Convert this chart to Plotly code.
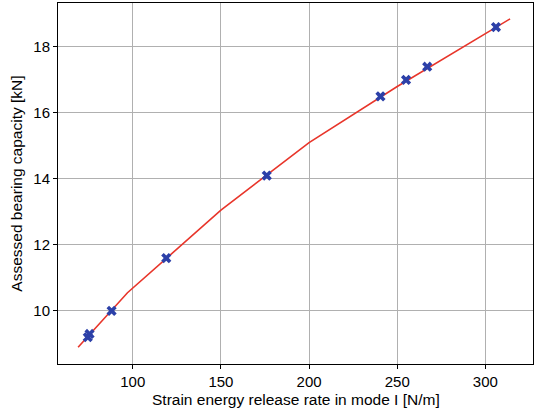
import plotly.graph_objects as go

# Fitted curve (red line)
curve_x = [69, 97, 150, 200, 250, 314]
curve_y = [8.9, 10.55, 13.05, 15.1, 16.8, 18.85]

# Data points (blue markers)
pts_x = [74.5, 75.5, 88, 119, 176, 240.5, 255, 267, 306]
pts_y = [9.2, 9.3, 10.0, 11.6, 14.1, 16.5, 17.0, 17.4, 18.6]

x_ticks = [100, 150, 200, 250, 300]
y_ticks = [10, 12, 14, 16, 18]

fig = go.Figure()
fig.add_trace(go.Scatter(x=curve_x, y=curve_y, mode="lines",
                         line=dict(color="#e8352a", width=1.6), showlegend=False))
fig.add_trace(go.Scatter(x=pts_x, y=pts_y, mode="markers",
                         marker=dict(symbol="x", size=9, color="#2c40a8",
                                     line=dict(width=0)), showlegend=False))

axis_common = dict(showline=True, linecolor="black", linewidth=1, mirror=True,
                   ticks="outside", ticklen=4, tickcolor="black",
                   showgrid=True, gridcolor="#b0b0b0", gridwidth=0.8,
                   zeroline=False, automargin=False,
                   tickfont=dict(size=15, color="black"))

fig.update_layout(
    width=535, height=413,
    margin=dict(l=58, r=2, t=3, b=49),
    paper_bgcolor="white", plot_bgcolor="white",
    font=dict(family="Liberation Sans, Arial, sans-serif", size=15, color="black"),
    xaxis=dict(range=[57.6, 327.0], tickvals=x_ticks, **axis_common),
    yaxis=dict(range=[8.39, 19.33], tickvals=y_ticks, **axis_common),
    annotations=[
        dict(text="Strain energy release rate in mode I [N/m]",
             xref="paper", yref="paper", x=0.5, y=-0.07,
             xanchor="center", yanchor="top", showarrow=False,
             font=dict(size=15.5)),
        dict(text="Assessed bearing capacity [kN]",
             xref="paper", yref="paper", x=-0.066, y=0.5,
             xanchor="right", yanchor="middle", textangle=-90, showarrow=False,
             font=dict(size=15.5)),
    ],
)

fig.write_html("out.html", config={"displayModeBar": False},
               post_script="document.body.style.margin='0px';document.body.style.padding='0px';")
